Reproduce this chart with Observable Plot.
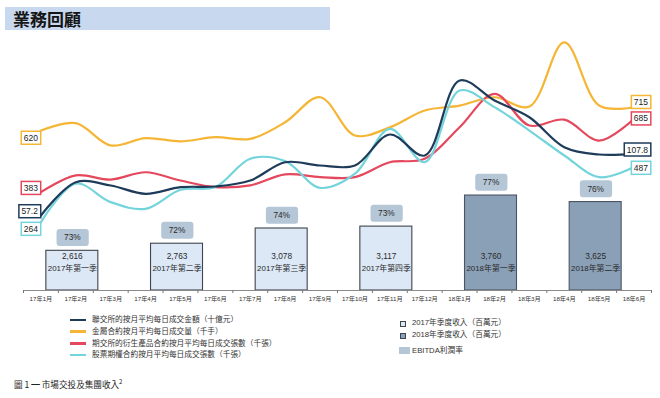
<!DOCTYPE html>
<html><head><meta charset="utf-8">
<script src="https://cdn.jsdelivr.net/npm/d3@7"></script>
<script src="https://cdn.jsdelivr.net/npm/@observablehq/plot@0.6"></script>
<style>
body{margin:0;background:#fff;}
#root{position:relative;width:660px;height:398px;overflow:hidden;font-family:"Liberation Sans",Arial,"Noto Sans CJK TC",sans-serif;color:#333;}
#title{position:absolute;left:5px;top:7px;width:325px;height:23px;background:#c8d8ee;}
#title span{position:absolute;left:8px;top:0;line-height:23px;font-size:17px;font-weight:bold;color:#151515;font-family:"Noto Sans CJK TC",sans-serif;}
.layer{position:absolute;left:0;top:35px;pointer-events:none;}
.leg{position:absolute;font-size:7.7px;line-height:10px;color:#333;white-space:nowrap;font-family:"Liberation Sans",Arial,"Noto Sans CJK TC",sans-serif;}
.sw{position:absolute;}
#caption{position:absolute;left:14px;top:377px;font-size:8.6px;color:#222;white-space:nowrap;font-family:"Noto Sans CJK TC",sans-serif;}
</style></head><body><div id="root"><div id="title"><span>業務回顧</span></div></div>
<script>
// ---------- data ----------
const months = ["17年1月","17年2月","17年3月","17年4月","17年5月","17年6月","17年7月","17年8月","17年9月","17年10月","17年11月","17年12月","18年1月","18年2月","18年3月","18年4月","18年5月","18年6月"];
const hkexTurnover = [57.2,84.5,81.8,75.0,80.4,81.0,85.9,100.9,98.2,98.2,123.6,106.4,167.9,151.5,137.8,113.2,107.2,107.8];
const metalsVolume = [620,650,559,589,576,593,586,654,756,600,633,702,722,756,718,980,722,715];
const hkfeContracts = [383,452,435,465,431,404,411,456,445,445,506,520,650,787,657,681,595,685];
const stockOptions = [264,420,345,318,395,406,521,511,403,460,642,507,797,730,635,534,446,487];
const quarterNames = ["2017年第一季","2017年第二季","2017年第三季","2017年第四季","2018年第一季","2018年第二季"];
const quarterYears = [2017,2017,2017,2017,2018,2018];
const quarterRevenue = [2616,2763,3078,3117,3760,3625];
const ebitdaMargin = [73,72,74,73,77,76];
const seriesNames = ["聯交所的按月平均每日成交金額（十億元）","金屬合約按月平均每日成交量（千手）","期交所的衍生產品合約按月平均每日成交張數（千張）","股票期權合約按月平均每日成交張數（千張）"];
const barLegend = ["2017年季度收入（百萬元）","2018年季度收入（百萬元）","EBITDA利潤率"];

// ---------- style ----------
const FONT = '"Liberation Sans",Arial,"Noto Sans CJK TC",sans-serif';
const colors = {navy:"#1f3b5a", gold:"#f5b535", red:"#e5475d", cyan:"#74d4dc"};
const W = 660, H = 275;
const common = {width:W, height:H, marginLeft:23, marginRight:9, marginTop:0, marginBottom:20,
  x:{domain:[0,18], axis:null, label:null},
  style:{background:"transparent", fontFamily:FONT, overflow:"visible", maxWidth:"none"}};
const series = [
  {vals:metalsVolume, color:colors.gold, domain:[-33,1008], fmt:d3.format("d"), startDy:7.5, endDy:-5},
  {vals:hkfeContracts, color:colors.red, domain:[-21,1027], fmt:d3.format("d"), startDy:-4, endDy:0},
  {vals:stockOptions, color:colors.cyan, domain:[-13,1020], fmt:d3.format("d"), startDy:7, endDy:1},
  {vals:hkexTurnover, color:colors.navy, domain:[-4.3,204.8], fmt:d3.format(".1f"), startDy:-4, endDy:-4}
];
const root = document.getElementById("root");

function boxTexts(svg, filter, o){
  svg.querySelectorAll("text").forEach(t=>{
    if(!filter(t)) return;
    const bb = t.getBBox();
    const r = document.createElementNS("http://www.w3.org/2000/svg","rect");
    r.setAttribute("x", bb.x - o.px); r.setAttribute("y", bb.y - o.py);
    r.setAttribute("width", bb.width + 2*o.px); r.setAttribute("height", bb.height + 2*o.py);
    if (o.rx) r.setAttribute("rx", o.rx);
    r.setAttribute("fill", o.fill);
    r.setAttribute("stroke", o.stroke || "none");
    r.setAttribute("stroke-width", o.sw || 0);
    const tr = t.getAttribute("transform"); if (tr) r.setAttribute("transform", tr);
    t.parentNode.insertBefore(r, t);
  });
}

// ---------- bars layer ----------
const bars = quarterNames.map((name,q)=>({name, year:quarterYears[q], rev:quarterRevenue[q], pct:ebitdaMargin[q], c:q*3+1.5-0.1}));
const barBase = 1795;
const barPlot = Plot.plot({...common,
  y:{domain:[barBase, 7071], axis:null},
  marks:[
    Plot.rect(bars, {x1:d=>d.c-0.745, x2:d=>d.c+0.745, y1:barBase, y2:"rev",
      fill:d=>d.year===2017?"#dce8f6":"#8aa0b6", stroke:d=>d.year===2017?"#3e454c":"#4b5561", strokeWidth:1.1}),
    Plot.text(bars, {x:"c", text:d=>d3.format(",")(d.rev), frameAnchor:"bottom", dy:-32, fontSize:8.3, fill:"#2a2a2a"}),
    Plot.text(bars, {x:"c", text:"name", frameAnchor:"bottom", dy:-19.5, fontSize:7.9, fill:"#2a2a2a"}),
    Plot.text(bars, {x:"c", y:"rev", text:d=>d.pct+"%", dy:-13, fontSize:8.3, fill:"#2a2a2a"}),
    Plot.ruleY([barBase], {stroke:"#8a8a8a", strokeWidth:1}),
    Plot.axisX({ticks:d3.range(19), tickFormat:()=>"", tickSize:3, stroke:"#777", label:null}),
    Plot.text(months, {x:(d,i)=>i+0.5, text:d=>d, frameAnchor:"bottom", dy:10, fontSize:6.2, fill:"#333"})
  ]});
barPlot.classList.add("layer");
root.appendChild(barPlot);
boxTexts(barPlot, t=>/%$/.test(t.textContent), {px:7.5, py:3.5, rx:3, fill:"#b5c6d7"});

// ---------- line layers ----------
for (const s of series){
  const n = s.vals.length;
  const p = Plot.plot({...common,
    y:{domain:s.domain, axis:null},
    marks:[
      Plot.line(s.vals, {x:(d,i)=>i+0.5, y:d=>d, stroke:s.color, strokeWidth:2.2, curve:"catmull-rom"}),
      Plot.text([s.vals[0]], {x:0.5, y:d=>d, text:d=>s.fmt(d), textAnchor:"end", dx:-3, dy:s.startDy, fontSize:8.5, fill:"#222"}),
      Plot.text([s.vals[n-1]], {x:n-0.5, y:d=>d, text:d=>s.fmt(d), textAnchor:"end", dx:14, dy:s.endDy, fontSize:8.5, fill:"#222"})
    ]});
  p.classList.add("layer");
  root.appendChild(p);
  boxTexts(p, ()=>true, {px:2.5, py:1.5, fill:"#fff", stroke:s.color, sw:1.5});
}

// ---------- legend ----------
const legColors = [colors.navy, colors.gold, colors.red, colors.cyan];
const legY = [320, 331.5, 343.5, 355];
seriesNames.forEach((name,i)=>{
  const sw = document.createElement("div"); sw.className="sw";
  Object.assign(sw.style,{left:"70px", top:(legY[i]-1.3)+"px", width:"16px", height:"2.6px", background:legColors[i]});
  root.appendChild(sw);
  const t = document.createElement("div"); t.className="leg"; t.textContent=name;
  Object.assign(t.style,{left:"92px", top:(legY[i]-5)+"px"});
  root.appendChild(t);
});
const rY = [323, 335, 350.5];
barLegend.forEach((name,i)=>{
  const sw = document.createElement("div"); sw.className="sw";
  if (i<2) Object.assign(sw.style,{left:"400px", top:(rY[i]-2.5)+"px", width:"4px", height:"4px", background:i===0?"#dce8f6":"#8aa0b6", border:"1px solid #3e454c"});
  else Object.assign(sw.style,{left:"399px", top:(rY[i]-3.5)+"px", width:"11px", height:"7px", background:"#b5c6d7"});
  root.appendChild(sw);
  const t = document.createElement("div"); t.className="leg"; t.textContent=name;
  Object.assign(t.style,{left:"412px", top:(rY[i]-5)+"px"});
  root.appendChild(t);
});

const cap = document.createElement("div"); cap.id="caption";
cap.innerHTML = "圖 1 <b>━</b> 市場交投及集團收入<sup style='font-size:6px'>2</sup>";
root.appendChild(cap);
</script></body></html>
